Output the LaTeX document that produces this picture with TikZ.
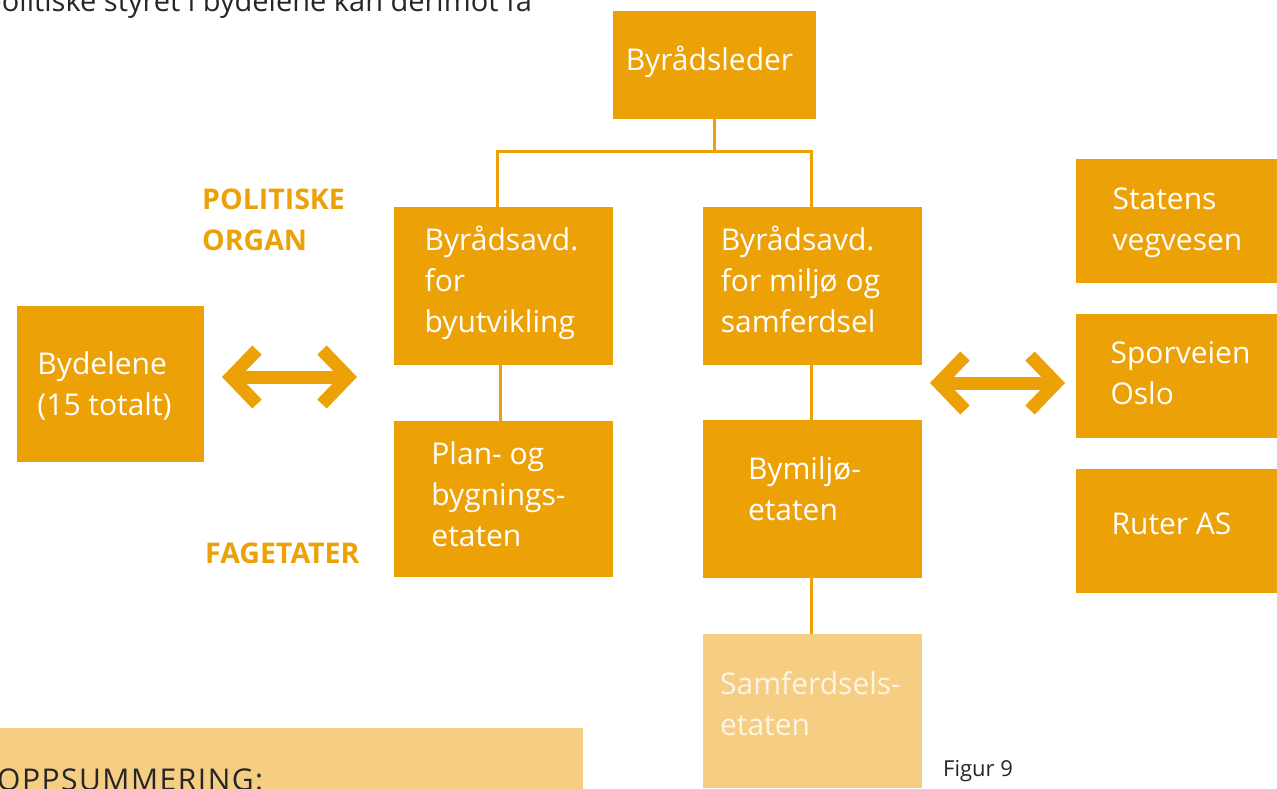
\documentclass[tikz,border=0pt]{standalone}
\usepackage{fontspec}
\setmainfont{Open Sans}
\definecolor{org}{RGB}{236,161,6}
\definecolor{orglight}{RGB}{245,206,132}
\definecolor{txtdark}{RGB}{38,38,38}
\definecolor{paletxt}{RGB}{253,244,226}
\tikzset{
  box/.style={fill=org, draw=none, inner sep=0pt},
  lbl/.style={text=white, align=left, inner sep=0pt,
    font=\fontsize{30}{41}\selectfont},
  conn/.style={draw=org, line width=3pt},
  dbl/.style={draw=org, line width=13pt, line join=miter, line cap=butt},
  heading/.style={text=org, align=left, inner sep=0pt, anchor=west,
    font=\fontsize{28.5}{41}\selectfont\bfseries}
}
\begin{document}
\begin{tikzpicture}[x=1pt, y=-1pt]
\useasboundingbox (0,0) rectangle (1277,788);
\clip (0,0) rectangle (1277,788);

% running text above the chart
\node[anchor=base west, inner sep=0pt, text=txtdark, font=\fontsize{29}{34}\selectfont]
  (para) at (-16,11) {politiske styret i bydelene kan derimot få};

% summary panel
\fill[orglight] (0,728) rectangle (583,800);
\node[anchor=base west, inner sep=0pt, text=txtdark,
  font=\fontsize{30}{36}\selectfont\addfontfeature{LetterSpace=5}]
  (summary) at (-3,790) {OPPSUMMERING:};

% organisation boxes
\node[box, minimum width=203pt, minimum height=108pt] (leder) at (714.5,65) {};
\node[box, minimum width=219pt, minimum height=158pt] (avd1) at (503.5,286) {};
\node[box, minimum width=219pt, minimum height=158pt] (avd2) at (812.5,286) {};
\node[box, minimum width=219pt, minimum height=156pt] (peb) at (503.5,499) {};
\node[box, minimum width=219pt, minimum height=158pt] (bym) at (812.5,499) {};
\node[box, fill=orglight, minimum width=219pt, minimum height=154pt] (sam) at (812.5,711) {};
\node[box, minimum width=187pt, minimum height=156pt] (bydel) at (110.5,384) {};
\node[box, minimum width=201pt, minimum height=124pt] (svv) at (1176.5,221) {};
\node[box, minimum width=201pt, minimum height=124pt] (spo) at (1176.5,376) {};
\node[box, minimum width=201pt, minimum height=124pt] (rut) at (1176.5,531) {};

% box texts
\node[lbl] (tleder) at ([shift={(-5,-3)}]leder.center) {Byrådsleder};
\node[lbl] (tavd1)  at ([shift={(-2,-3)}]avd1.center) {Byrådsavd.\\for\\byutvikling};
\node[lbl] (tavd2)  at ([shift={(-12,-7)}]avd2.center) {Byrådsavd.\\for miljø og\\samferdsel};
\node[lbl] (tpeb)   at ([shift={(-5,-5)}]peb.center) {Plan- og\\bygnings-\\etaten};
\node[lbl] (tbym)   at ([shift={(-8,-10)}]bym.center) {Bymiljø-\\etaten};
\node[lbl, text=paletxt] (tsam) at ([shift={(-2,-7)}]sam.center) {Samferdsels-\\etaten};
\node[lbl] (tbydel) at ([shift={(-6,2)}]bydel.center) {Bydelene\\(15 totalt)};
\node[lbl] (tsvv)   at ([shift={(1,2)}]svv.center) {Statens\\vegvesen};
\node[lbl] (tspo)   at ([shift={(4,-3)}]spo.center) {Sporveien\\Oslo};
\node[lbl] (trut)   at ([shift={(-5,-7)}]rut.center) {Ruter AS};

% level headings
\node[heading] (polorg) at (202,220) {POLITISKE\\ORGAN};
\node[heading] (fag) at (205,553) {FAGETATER};

% caption
\node[anchor=base west, inner sep=0pt, text=txtdark, font=\fontsize{22}{26}\selectfont]
  (fig) at (943,776) {Figur 9};

% hierarchy connectors
\coordinate (bus) at (714.5,151);
\draw[conn] (leder.south) -- (bus);
\draw[conn] (bus) -| ([xshift=-6.5pt]avd1.north);
\draw[conn] (bus) -| ([xshift=-1.5pt]avd2.north);
\draw[conn] ([xshift=-3.5pt]avd1.south) -- ([xshift=-3.5pt]peb.north);
\draw[conn] ([xshift=-1.5pt]avd2.south) -- ([xshift=-1.5pt]bym.north);
\draw[conn] ([xshift=-1.5pt]bym.south) -- ([xshift=-1.5pt]sam.north);

% double-headed arrows
\coordinate (a1l) at (231,377);
\coordinate (a1r) at (348,377);
\draw[dbl] (a1l) -- (a1r);
\draw[dbl] (a1l) ++(26,-27) -- ++(-26,27) -- ++(26,27);
\draw[dbl] (a1r) ++(-26,-27) -- ++(26,27) -- ++(-26,27);

\coordinate (a2l) at (939,383);
\coordinate (a2r) at (1056,383);
\draw[dbl] (a2l) -- (a2r);
\draw[dbl] (a2l) ++(26,-27) -- ++(-26,27) -- ++(26,27);
\draw[dbl] (a2r) ++(-26,-27) -- ++(26,27) -- ++(-26,27);
\end{tikzpicture}
\end{document}
